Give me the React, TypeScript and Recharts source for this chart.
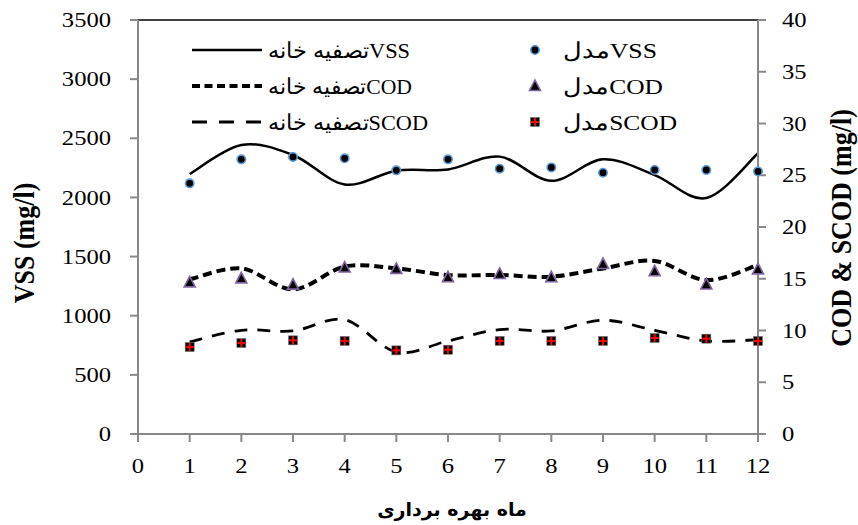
import { ComposedChart, Line, Scatter, XAxis, YAxis, ReferenceLine, Label } from 'recharts';

const months = [1, 2, 3, 4, 5, 6, 7, 8, 9, 10, 11, 12];
const vssPlant = [2198, 2443, 2359, 2110, 2226, 2237, 2345, 2141, 2322, 2189, 1995, 2373];
const vssModel = [2119, 2322, 2342, 2331, 2229, 2322, 2243, 2254, 2209, 2232, 2232, 2220];
const codPlant = [14.94, 16.0, 13.97, 16.17, 16.0, 15.36, 15.36, 15.2, 16.0, 16.72, 14.87, 16.33];
const codModel = [14.65, 15.04, 14.43, 16.08, 15.95, 15.14, 15.46, 15.14, 16.43, 15.72, 14.45, 15.91];
const scodPlant = [8.89, 10.02, 9.96, 11.05, 7.92, 8.99, 10.09, 9.96, 10.99, 10.02, 8.99, 9.11];
const scodModel = [8.4, 8.79, 9.05, 8.99, 8.08, 8.14, 8.99, 8.99, 8.99, 9.28, 9.21, 8.99];

const xTicks = [0, 1, 2, 3, 4, 5, 6, 7, 8, 9, 10, 11, 12];
const leftTicks = [0, 500, 1000, 1500, 2000, 2500, 3000, 3500];
const rightTicks = [0, 5, 10, 15, 20, 25, 30, 35, 40];

const legendPlant = ['تصفیه خانهVSS', 'تصفیه خانهCOD', 'تصفیه خانهSCOD'];
const legendModel = ['مدلVSS', 'مدلCOD', 'مدلSCOD'];
const xTitle = 'ماه بهره برداری';
const leftTitle = 'VSS (mg/l)';
const rightTitle = 'COD & SCOD (mg/l)';

const data = months.map((month, i) => ({
  month,
  vssPlant: vssPlant[i],
  vssModel: vssModel[i],
  codPlant: codPlant[i],
  codModel: codModel[i],
  scodPlant: scodPlant[i],
  scodModel: scodModel[i],
}));

const FONT = "Liberation Serif, Times New Roman, DejaVu Serif, serif";
const FS = 20.5;
const SX = 1.2;
const AXIS = '#888888';

// Excel-like smoothing (Catmull-Rom through the points)
const excelCurve = (context: any) => {
  let pts: [number, number][] = [];
  return {
    areaStart() {},
    areaEnd() {},
    lineStart() {
      pts = [];
    },
    point(x: number, y: number) {
      pts.push([+x, +y]);
    },
    lineEnd() {
      if (!pts.length) return;
      context.moveTo(pts[0][0], pts[0][1]);
      for (let i = 0; i < pts.length - 1; i++) {
        const p0 = pts[i - 1] || pts[i];
        const p1 = pts[i];
        const p2 = pts[i + 1];
        const p3 = pts[i + 2] || pts[i + 1];
        context.bezierCurveTo(
          p1[0] + (p2[0] - p0[0]) / 6,
          p1[1] + (p2[1] - p0[1]) / 6,
          p2[0] - (p3[0] - p1[0]) / 6,
          p2[1] - (p3[1] - p1[1]) / 6,
          p2[0],
          p2[1],
        );
      }
    },
  };
};

function CircleMark({ cx, cy }: any) {
  return <circle cx={cx} cy={cy} r={4.2} fill="#000" stroke="#5b9bd5" strokeWidth={1.6} />;
}

function TriangleMark({ cx, cy }: any) {
  return (
    <path
      d={`M${cx},${cy - 6} L${cx + 5.5},${cy + 4.5} L${cx - 5.5},${cy + 4.5} Z`}
      fill="#000"
      stroke="#8064a2"
      strokeWidth={1.6}
      strokeLinejoin="miter"
    />
  );
}

function SquareMark({ cx, cy }: any) {
  return (
    <g>
      <rect x={cx - 4.5} y={cy - 4.5} width={9} height={9} fill="#000" stroke="#777" strokeWidth={0.6} />
      <line x1={cx - 4} y1={cy} x2={cx + 4} y2={cy} stroke="#ff0000" strokeWidth={2} />
      <line x1={cx} y1={cy - 4} x2={cx} y2={cy + 4} stroke="#ff0000" strokeWidth={2} />
    </g>
  );
}

// the source picture is stretched ~1.2x horizontally, so text is too
function StretchText({ x, y, anchor, dy, children, size = FS }: any) {
  return (
    <text
      transform={`translate(${x},${y}) scale(${SX},1)`}
      textAnchor={anchor}
      dy={dy}
      style={{ fontFamily: FONT }}
      fontSize={size}
      fill="#000"
    >
      {children}
    </text>
  );
}

function AxisTitle({ x, y, children }: any) {
  return (
    <text
      transform={`translate(${x},${y}) scale(1.1,1) rotate(-90)`}
      textAnchor="middle"
      dy="0.3em"
      style={{ fontFamily: FONT }}
      fontSize={26}
      fontWeight="bold"
      fill="#000"
    >
      {children}
    </text>
  );
}

const LeftTick = ({ x, y, payload }: any) => (
  <StretchText x={x} y={y} anchor="end" dy="0.35em">{payload.value}</StretchText>
);
const RightTick = ({ x, y, payload }: any) => (
  <StretchText x={x} y={y} anchor="start" dy="0.35em">{payload.value}</StretchText>
);
const BottomTick = ({ x, y, payload }: any) => (
  <StretchText x={x} y={y} anchor="middle" dy="0.71em">{payload.value}</StretchText>
);

function Legend() {
  const rows = [50, 86, 122];
  const plantStyles = [
    { w: 2.5, dash: undefined },
    { w: 4, dash: '8 4.5' },
    { w: 3, dash: '15 12' },
  ];
  const plantWidths = [142, 144, 160];
  const modelWidths = [94, 100, 114];
  const marks = [CircleMark, TriangleMark, SquareMark];
  return (
    <svg width={858} height={525} style={{ position: 'absolute', left: 0, top: 0, pointerEvents: 'none' }}>
      {rows.map((ry, i) => {
        const Mark = marks[i];
        return (
          <g key={i}>
            <line x1={192} y1={ry} x2={262} y2={ry} stroke="#000" strokeWidth={plantStyles[i].w} strokeDasharray={plantStyles[i].dash} />
            <text x={268} y={ry} dy="0.35em" style={{ fontFamily: FONT }} fontSize={22} fill="#000" textLength={plantWidths[i]} lengthAdjust="spacingAndGlyphs">
              {legendPlant[i]}
            </text>
            <Mark cx={535} cy={ry} />
            <text x={563} y={ry} dy="0.35em" style={{ fontFamily: FONT }} fontSize={22} fill="#000" textLength={modelWidths[i]} lengthAdjust="spacingAndGlyphs">
              {legendModel[i]}
            </text>
          </g>
        );
      })}
    </svg>
  );
}

export default function App() {
  return (
    <div style={{ position: 'absolute', left: 0, top: 0, width: 858, height: 525, background: '#fff' }}>
      <ComposedChart width={858} height={525} data={data} margin={{ top: 20, right: 40, left: 68, bottom: 31 }}>
        <XAxis
          dataKey="month"
          type="number"
          domain={[0, 12]}
          ticks={xTicks}
          interval={0}
          stroke={AXIS}
          strokeWidth={2}
          tickSize={8}
          tickMargin={16}
          tick={<BottomTick />}
          height={60}
        >
          <Label
            content={() => (
              <text x={452} y={509} dy="0.35em" textAnchor="middle" style={{ fontFamily: 'DejaVu Sans, sans-serif' }} fontWeight="bold" fontSize={19} fill="#000">
                {xTitle}
              </text>
            )}
          />
        </XAxis>
        <YAxis
          yAxisId="left"
          domain={[0, 3500]}
          ticks={leftTicks}
          interval={0}
          stroke={AXIS}
          strokeWidth={2}
          tickSize={8}
          tickMargin={19}
          tick={<LeftTick />}
          width={70}
        >
          <Label content={() => <AxisTitle x={25} y={243}>{leftTitle}</AxisTitle>} />
        </YAxis>
        <YAxis
          yAxisId="right"
          orientation="right"
          domain={[0, 40]}
          ticks={rightTicks}
          interval={0}
          stroke={AXIS}
          strokeWidth={2}
          tickSize={8}
          tickMargin={16}
          tick={<RightTick />}
          width={60}
        >
          <Label content={() => <AxisTitle x={842} y={228}>{rightTitle}</AxisTitle>} />
        </YAxis>
        <ReferenceLine yAxisId="left" y={3500} stroke="#000" strokeWidth={1.5} />

        <Line yAxisId="left" dataKey="vssPlant" type={excelCurve as any} stroke="#000" strokeWidth={2.5} dot={false} isAnimationActive={false} />
        <Line yAxisId="right" dataKey="codPlant" type={excelCurve as any} stroke="#000" strokeWidth={4} strokeDasharray="9 5" dot={false} isAnimationActive={false} />
        <Line yAxisId="right" dataKey="scodPlant" type={excelCurve as any} stroke="#000" strokeWidth={2.8} strokeDasharray="13 10" dot={false} isAnimationActive={false} />

        <Scatter yAxisId="left" dataKey="vssModel" shape={<CircleMark />} isAnimationActive={false} />
        <Scatter yAxisId="right" dataKey="codModel" shape={<TriangleMark />} isAnimationActive={false} />
        <Scatter yAxisId="right" dataKey="scodModel" shape={<SquareMark />} isAnimationActive={false} />
      </ComposedChart>
      <Legend />
    </div>
  );
}
